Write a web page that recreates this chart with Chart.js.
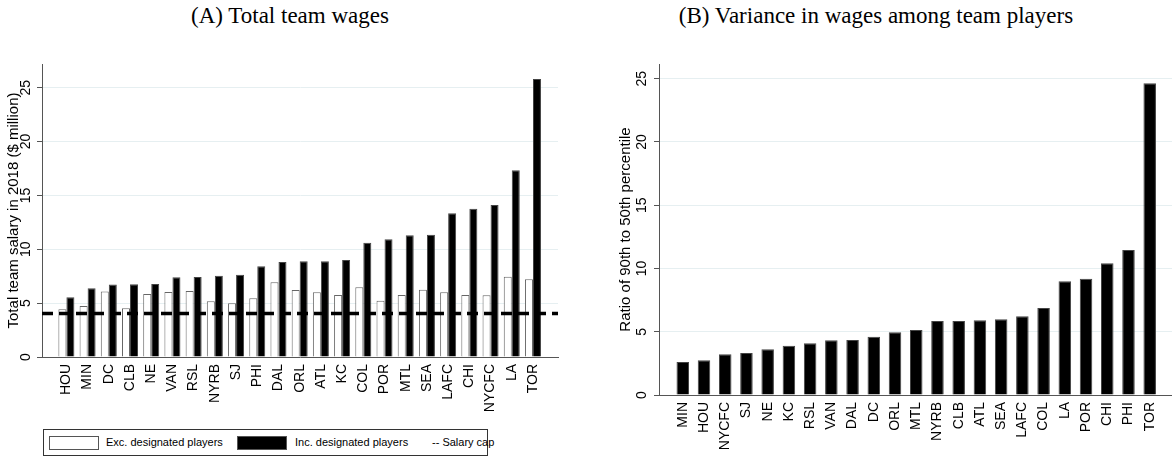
<!DOCTYPE html>
<html>
<head>
<meta charset="utf-8">
<script src="https://cdn.jsdelivr.net/npm/chart.js@4.4.0/dist/chart.umd.min.js"></script>
<style>
	body { margin: 0; background: #fff; width: 1172px; height: 459px; overflow: hidden; position: relative; font-family: "Liberation Sans", Arial, sans-serif; }
	.panel-title { position: absolute; top: 0; line-height: 32px; font-family: "Liberation Serif", "Times New Roman", serif; font-size: 23px; color: #000; text-align: center; }
	#titleA { left: 0; width: 580px; }
	#titleB { left: 580px; width: 592px; }
	#chartA { position: absolute; left: 0; top: 0; }
	#chartB { position: absolute; left: 580px; top: 0; }
	.legend { position: absolute; left: 43px; top: 429px; width: 443px; height: 25px; border: 1px solid #333; font-size: 11px; color: #000; }
	.legend .sw { position: absolute; top: 6px; width: 48px; height: 12px; border: 1px solid #555; }
	.legend .lbl { position: absolute; top: 0; line-height: 25px; white-space: nowrap; }
</style>
</head>
<body>
<div class="panel-title" id="titleA">(A) Total team wages</div>
<div class="panel-title" id="titleB">(B) Variance in wages among team players</div>
<canvas id="chartA" width="580" height="420"></canvas>
<canvas id="chartB" width="592" height="459"></canvas>
<div class="legend">
	<div class="sw" style="left:5px;background:#fff"></div>
	<div class="lbl" style="left:62px">Exc. designated players</div>
	<div class="sw" style="left:193px;background:#000"></div>
	<div class="lbl" style="left:251px">Inc. designated players</div>
	<div class="lbl" style="left:388px">-- Salary cap</div>
</div>
<script>
// Data: panel A (sorted by total wages)
const TEAMS_A = ['HOU', 'MIN', 'DC', 'CLB', 'NE', 'VAN', 'RSL', 'NYRB', 'SJ', 'PHI', 'DAL', 'ORL', 'ATL', 'KC', 'COL', 'POR', 'MTL', 'SEA', 'LAFC', 'CHI', 'NYCFC', 'LA', 'TOR'];
const EXC_DP = [4.43, 4.73, 6.07, 4.52, 5.85, 6.04, 6.13, 5.17, 4.98, 5.45, 6.93, 6.22, 6.0, 5.76, 6.47, 5.23, 5.76, 6.25, 6.0, 5.76, 5.73, 7.46, 7.21];
const INC_DP = [5.54, 6.38, 6.72, 6.75, 6.78, 7.4, 7.43, 7.55, 7.64, 8.42, 8.82, 8.88, 8.88, 9.0, 10.61, 10.93, 11.3, 11.36, 13.34, 13.77, 14.11, 17.33, 25.8];
const SALARY_CAP = 4.035;

// Data: panel B (sorted by wage ratio)
const TEAMS_B = ['MIN', 'HOU', 'NYCFC', 'SJ', 'NE', 'KC', 'RSL', 'VAN', 'DAL', 'DC', 'ORL', 'MTL', 'NYRB', 'CLB', 'ATL', 'SEA', 'LAFC', 'COL', 'LA', 'POR', 'CHI', 'PHI', 'TOR'];
const RATIO_90_50 = [2.61, 2.74, 3.22, 3.32, 3.61, 3.9, 4.09, 4.33, 4.35, 4.6, 4.96, 5.14, 5.85, 5.85, 5.9, 5.98, 6.22, 6.88, 8.99, 9.18, 10.42, 11.45, 24.63];

// Axis ranges
const X_RANGE_A = [-1.15, 23.18];
const X_RANGE_B = [-1.12, 23.05];
const Y_MAX_A = 27.2;
const Y_MAX_B = 26.16;
const Y_STEP = 5;

const AXIS_COLOR = '#555';
const GRID_COLOR = '#e6eff1';

Chart.defaults.font.family = '"Liberation Sans", Arial, sans-serif';
Chart.defaults.color = '#000';

// y tick labels rotated like Stata (read bottom to top)
const rotatedYTicks = {
	id: 'rotatedYTicks',
	afterDraw(chart, args, opts) {
		const s = chart.scales.y;
		const ctx = chart.ctx;
		ctx.save();
		ctx.font = '14px "Liberation Sans", Arial, sans-serif';
		ctx.fillStyle = '#000';
		ctx.textAlign = 'center';
		ctx.textBaseline = 'middle';
		s.ticks.forEach((t) => {
			ctx.save();
			ctx.translate(s.right - opts.offset, s.getPixelForValue(t.value));
			ctx.rotate(-Math.PI / 2);
			ctx.fillText(String(t.value), 0, 0);
			ctx.restore();
		});
		ctx.restore();
	},
};

function xScale(teams, range, height) {
	return {
		type: 'linear',
		min: range[0],
		max: range[1],
		offset: false,
		grid: { display: false, drawTicks: false, offset: false },
		border: { color: AXIS_COLOR, width: 1 },
		afterBuildTicks: (s) => { s.ticks = teams.map((_, i) => ({ value: i })); },
		afterFit: (s) => { s.height = height; s.paddingLeft = 0; s.paddingRight = 0; },
		ticks: {
			autoSkip: false,
			minRotation: 90,
			maxRotation: 90,
			padding: 7,
			font: { size: 14 },
			callback: (v, i) => teams[i],
		},
	};
}

function yScale(max, title, width, titlePad) {
	return {
		min: 0,
		max,
		ticks: { display: false, stepSize: Y_STEP, includeBounds: false },
		grid: { color: GRID_COLOR, lineWidth: 1, drawTicks: true, tickLength: 5, tickColor: AXIS_COLOR },
		border: { color: AXIS_COLOR, width: 1 },
		title: { display: true, text: title, font: { size: 15 }, padding: { top: titlePad, bottom: 0 } },
		afterFit: (s) => { s.width = width; s.paddingTop = 0; s.paddingBottom = 0; },
	};
}

const baseOptions = {
	responsive: false,
	animation: false,
	devicePixelRatio: 1,
	plugins: { legend: { display: false }, tooltip: { enabled: false }, rotatedYTicks: { offset: 16 } },
};

new Chart(document.getElementById('chartA'), {
	type: 'bar',
	data: {
		datasets: [
			{
				type: 'line',
				data: X_RANGE_A.map((x) => ({ x, y: SALARY_CAP })),
				borderColor: '#000',
				borderWidth: 3.5,
				borderDash: [11, 6],
				pointRadius: 0,
				order: -1,
			},
			{
				data: EXC_DP.map((y, x) => ({ x, y })),
				backgroundColor: '#fff',
				borderColor: '#666',
				borderWidth: 1,
				categoryPercentage: 0.755,
				barPercentage: 1,
			},
			{
				data: INC_DP.map((y, x) => ({ x, y })),
				backgroundColor: '#000',
				borderColor: '#444',
				borderWidth: 1,
				categoryPercentage: 0.755,
				barPercentage: 1,
			},
		],
	},
	options: {
		...baseOptions,
		layout: { padding: { top: 64, right: 22, left: 0, bottom: 0 } },
		scales: {
			x: xScale(TEAMS_A, X_RANGE_A, 63),
			y: yScale(Y_MAX_A, 'Total team salary in 2018 ($ million)', 42, 5),
		},
	},
	plugins: [rotatedYTicks],
});

new Chart(document.getElementById('chartB'), {
	type: 'bar',
	data: {
		datasets: [
			{
				data: RATIO_90_50.map((y, x) => ({ x, y })),
				backgroundColor: '#000',
				borderColor: '#444',
				borderWidth: 1,
				categoryPercentage: 0.59,
				barPercentage: 1,
			},
		],
	},
	options: {
		...baseOptions,
		plugins: { ...baseOptions.plugins, rotatedYTicks: { offset: 17 } },
		layout: { padding: { top: 64, right: 0, left: 0, bottom: 0 } },
		scales: {
			x: xScale(TEAMS_B, X_RANGE_B, 64),
			y: yScale(Y_MAX_B, 'Ratio of 90th to 50th percentile', 79, 37),
		},
	},
	plugins: [rotatedYTicks],
});
</script>
</body>
</html>
